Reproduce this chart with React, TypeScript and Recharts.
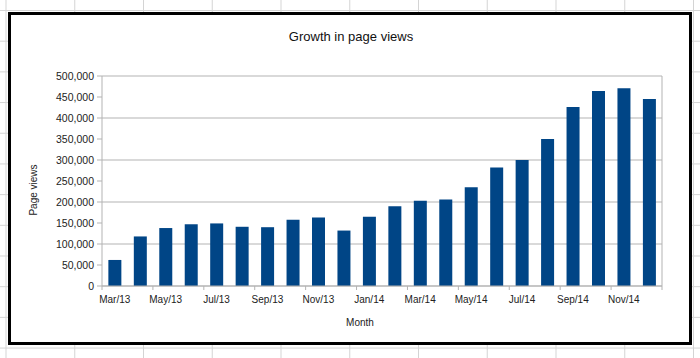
import { Bar, BarChart, CartesianGrid, Label, XAxis, YAxis } from 'recharts'

const months = [
  'Mar/13', 'Apr/13', 'May/13', 'Jun/13', 'Jul/13', 'Aug/13', 'Sep/13', 'Oct/13', 'Nov/13', 'Dec/13',
  'Jan/14', 'Feb/14', 'Mar/14', 'Apr/14', 'May/14', 'Jun/14', 'Jul/14', 'Aug/14', 'Sep/14', 'Oct/14',
  'Nov/14', 'Dec/14',
]

const pageViews = [
  62000, 118000, 138000, 147000, 149000, 141000, 140000, 158000, 163000, 132000,
  165000, 190000, 203000, 206000, 235000, 282000, 300000, 350000, 426000, 464000,
  471000, 445000,
]

const yTicks = [0, 50000, 100000, 150000, 200000, 250000, 300000, 350000, 400000, 450000, 500000]

const data = months.map((month, i) => ({ month, views: pageViews[i] }))

const FONT = '"Liberation Sans", Arial, sans-serif'
const GRID = '#b3b3b3'
const TEXT = '#222'

function MonthTick(props: any) {
  const { x, y, payload } = props
  const half = payload?.offset ?? 560 / months.length / 2
  const axisY = y - 10
  const isLast = payload.index + 2 >= months.length
  return (
    <g>
      <line x1={x - half} x2={x - half} y1={axisY} y2={axisY + 4} stroke={GRID} />
      {isLast && <line x1={x + half * 3} x2={x + half * 3} y1={axisY} y2={axisY + 4} stroke={GRID} />}
      <text x={x} y={y} dy="0.71em" textAnchor="middle" fill={TEXT} fontSize={10} fontFamily={FONT}>
        {payload.value}
      </text>
    </g>
  )
}

export default function App() {
  return (
    <div
      style={{
        position: 'absolute',
        left: 0,
        top: 0,
        width: 700,
        height: 358,
        overflow: 'hidden',
        backgroundColor: '#fff',
        backgroundImage:
          'linear-gradient(to right, #d4d4d4 1px, transparent 1px), linear-gradient(to bottom, #d4d4d4 1px, transparent 1px)',
        backgroundSize: '68.75px 30.7px',
        backgroundPosition: '5.5px 10px',
      }}
    >
      <div
        style={{
          position: 'absolute',
          left: 8,
          top: 12,
          width: 684,
          height: 333,
          boxSizing: 'border-box',
          border: '3px solid #000',
          background: '#fff',
        }}
      />
      <div
        style={{
          position: 'absolute',
          left: 0,
          top: 29,
          width: 702,
          textAlign: 'center',
          fontFamily: FONT,
          fontSize: 13,
          lineHeight: '15px',
          color: '#111',
        }}
      >
        Growth in page views
      </div>
      <div style={{ position: 'absolute', left: 0, top: 0 }}>
        <BarChart
          width={700}
          height={358}
          data={data}
          margin={{ top: 76, right: 30, bottom: 28, left: 24 }}
          barCategoryGap="25%"
        >
          <CartesianGrid yAxisId="left" vertical={false} stroke={GRID} />
          <XAxis
            dataKey="month"
            interval={1}
            height={44}
            tickLine={false}
            tickSize={4}
            tickMargin={6}
            axisLine={{ stroke: GRID }}
            tick={<MonthTick />}
          >
            <Label
              value="Month"
              position="insideBottom"
              offset={4}
              dx={-22}
              style={{ fontFamily: FONT, fontSize: 10, fill: TEXT }}
            />
          </XAxis>
          <YAxis
            yAxisId="left"
            width={78}
            domain={[0, 500000]}
            ticks={yTicks}
            tickFormatter={(v: number) => v.toLocaleString('en-US')}
            tick={{ fill: TEXT, fontSize: 10.5, fontFamily: FONT }}
            tickSize={5}
            tickMargin={3}
            tickLine={{ stroke: GRID }}
            axisLine={{ stroke: GRID }}
          >
            <Label
              content={({ viewBox }: any) => {
                const cx = viewBox.x + 13
                const cy = viewBox.y + viewBox.height / 2 + 9
                return (
                  <text
                    x={cx}
                    y={cy}
                    transform={`rotate(-90, ${cx}, ${cy})`}
                    textAnchor="middle"
                    fill={TEXT}
                    fontSize={10}
                    fontFamily={FONT}
                  >
                    Page views
                  </text>
                )
              }}
            />
          </YAxis>
          <YAxis
            yAxisId="right"
            orientation="right"
            width={8}
            domain={[0, 500000]}
            ticks={yTicks}
            tick={false}
            tickLine={false}
            axisLine={{ stroke: GRID }}
          />
          <Bar yAxisId="left" dataKey="views" fill="#004586" isAnimationActive={false} />
        </BarChart>
      </div>
    </div>
  )
}
